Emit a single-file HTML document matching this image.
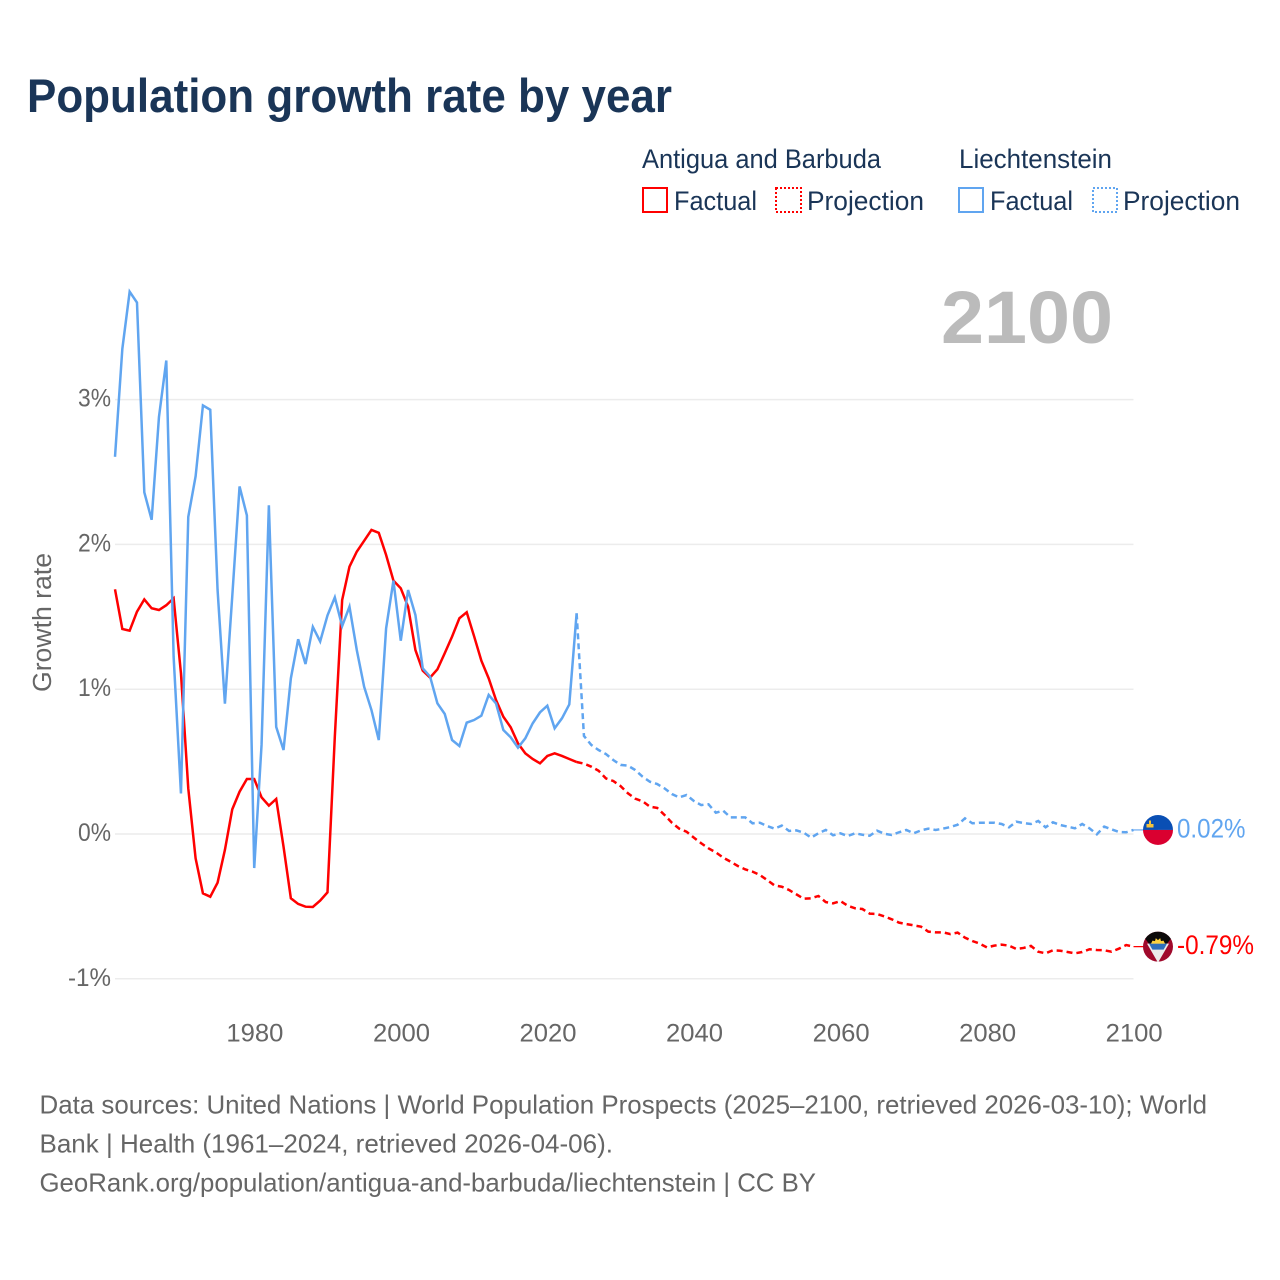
<!DOCTYPE html>
<html lang="en">
<head>
<meta charset="utf-8">
<title>Population growth rate by year</title>
<style>
  html, body { margin: 0; padding: 0; background: #ffffff; }
  svg { display: block; font-family: "Liberation Sans", sans-serif; }
</style>
</head>
<body>
<svg id="chart" xmlns="http://www.w3.org/2000/svg" width="1280" height="1280" viewBox="0 0 1280 1280">
  <defs>
    <clipPath id="flag-clip-top"><circle cx="0" cy="0" r="15"></circle></clipPath>
  </defs>
  <rect x="0" y="0" width="1280" height="1280" fill="#ffffff"></rect>

  <text x="27" y="112" font-size="47" font-weight="700" fill="#1a3557" textLength="645" lengthAdjust="spacingAndGlyphs">Population growth rate by year</text>

  <g font-size="26.5" fill="#1a3557">
    <text x="642" y="168" textLength="239" lengthAdjust="spacingAndGlyphs">Antigua and Barbuda</text>
    <text x="959" y="168" textLength="153" lengthAdjust="spacingAndGlyphs">Liechtenstein</text>
    <rect x="643" y="188" width="24" height="24" fill="none" stroke="#ff0000" stroke-width="2"></rect>
    <text x="674" y="210" textLength="83" lengthAdjust="spacingAndGlyphs">Factual</text>
    <rect x="776" y="188" width="25" height="24" fill="none" stroke="#ff0000" stroke-width="2" stroke-dasharray="2 2"></rect>
    <text x="807" y="210" textLength="117" lengthAdjust="spacingAndGlyphs">Projection</text>
    <rect x="959" y="188" width="24" height="24" fill="none" stroke="#60a5f0" stroke-width="2"></rect>
    <text x="990" y="210" textLength="83" lengthAdjust="spacingAndGlyphs">Factual</text>
    <rect x="1093" y="188" width="24" height="24" fill="none" stroke="#60a5f0" stroke-width="2" stroke-dasharray="2 2"></rect>
    <text x="1123" y="210" textLength="117" lengthAdjust="spacingAndGlyphs">Projection</text>
  </g>

  <text x="941" y="343" font-size="74" font-weight="700" fill="#bbbbbb" textLength="172" lengthAdjust="spacingAndGlyphs">2100</text>

  <text transform="translate(51,692) rotate(-90)" font-size="25.5" fill="#666666" textLength="139" lengthAdjust="spacingAndGlyphs">Growth rate</text>

  <g id="grid"></g>
  <g id="y-ticks"></g>
  <g id="x-ticks"></g>
  <g id="series"></g>

  <g id="flag-liechtenstein">
    <g clip-path="url(#flag-clip-top)">
      <rect x="-15" y="-15" width="30" height="15" fill="#0a4fb4"></rect>
      <rect x="-15" y="0" width="30" height="15" fill="#da0030"></rect>
      <path d="M-11.5,-2.5 L-11.5,-6 L-9,-6 L-9,-9.5 L-7,-9.5 L-7,-6 L-4.5,-6 L-4.5,-2.5 Z" fill="#f5c33b"></path>
    </g>
  </g>
  <g id="flag-antigua">
    <g clip-path="url(#flag-clip-top)">
      <rect x="-15" y="-15" width="30" height="30" fill="#a00a2c"></rect>
      <polygon points="-16,-15 16,-15 16,-8 13,-8 9,-3 -9,-3 -13,-8 -16,-8" fill="#0c0a0a"></polygon>
      <polygon points="-11,-3 11,-3 0,16" fill="#ecebeb"></polygon>
      <polygon points="-9,-3 9,-3 5.6,3 -5.6,3" fill="#2e6fbc"></polygon>
      <path d="M-7,-3 L-5.5,-6 L-3,-5.5 L-2.2,-8.5 L0,-6.5 L2.2,-8.5 L3,-5.5 L5.5,-6 L7,-3 Z" fill="#fcd13e"></path>
    </g>
  </g>
  <g id="end-labels"></g>

  <g font-size="26" fill="#666666">
    <text x="39.5" y="1113.5" textLength="1167.5" lengthAdjust="spacingAndGlyphs">Data sources: United Nations | World Population Prospects (2025–2100, retrieved 2026-03-10); World</text>
    <text x="39.5" y="1152.5" textLength="573.5" lengthAdjust="spacingAndGlyphs">Bank | Health (1961–2024, retrieved 2026-04-06).</text>
    <text x="39.5" y="1191.5" textLength="776.5" lengthAdjust="spacingAndGlyphs">GeoRank.org/population/antigua-and-barbuda/liechtenstein | CC BY</text>
  </g>
</svg>

<script>
const factualYears = [1961,1962,1963,1964,1965,1966,1967,1968,1969,1970,1971,1972,1973,1974,1975,1976,1977,1978,1979,1980,1981,1982,1983,1984,1985,1986,1987,1988,1989,1990,1991,1992,1993,1994,1995,1996,1997,1998,1999,2000,2001,2002,2003,2004,2005,2006,2007,2008,2009,2010,2011,2012,2013,2014,2015,2016,2017,2018,2019,2020,2021,2022,2023,2024];
const projectionYears = [2024,2025,2026,2027,2028,2029,2030,2031,2032,2033,2034,2035,2036,2037,2038,2039,2040,2041,2042,2043,2044,2045,2046,2047,2048,2049,2050,2051,2052,2053,2054,2055,2056,2057,2058,2059,2060,2061,2062,2063,2064,2065,2066,2067,2068,2069,2070,2071,2072,2073,2074,2075,2076,2077,2078,2079,2080,2081,2082,2083,2084,2085,2086,2087,2088,2089,2090,2091,2092,2093,2094,2095,2096,2097,2098,2099,2100];

const antiguaFactual = [1.69,1.416,1.404,1.535,1.62,1.559,1.547,1.58,1.628,1.11,0.315,-0.168,-0.41,-0.433,-0.336,-0.11,0.17,0.292,0.38,0.38,0.253,0.196,0.242,-0.088,-0.444,-0.483,-0.502,-0.504,-0.46,-0.403,0.672,1.616,1.846,1.95,2.025,2.1,2.08,1.927,1.75,1.697,1.57,1.27,1.128,1.08,1.137,1.248,1.363,1.49,1.531,1.367,1.197,1.075,0.925,0.81,0.737,0.626,0.557,0.518,0.488,0.539,0.557,0.539,0.518,0.497];

const liechtensteinFactual = [2.605,3.35,3.745,3.67,2.36,2.17,2.88,3.27,1.225,0.28,2.19,2.47,2.96,2.93,1.685,0.9,1.64,2.4,2.2,-0.235,0.615,2.27,0.74,0.58,1.075,1.345,1.174,1.43,1.33,1.51,1.634,1.436,1.57,1.27,1.017,0.856,0.649,1.42,1.75,1.335,1.685,1.512,1.144,1.087,0.902,0.829,0.649,0.608,0.769,0.787,0.817,0.96,0.902,0.718,0.668,0.596,0.661,0.764,0.84,0.886,0.73,0.799,0.895,1.524];

const antiguaProjection = [0.497,0.486,0.465,0.437,0.384,0.366,0.331,0.281,0.244,0.226,0.189,0.18,0.131,0.078,0.037,0.016,-0.025,-0.064,-0.099,-0.127,-0.163,-0.191,-0.221,-0.244,-0.26,-0.283,-0.318,-0.355,-0.364,-0.387,-0.417,-0.447,-0.444,-0.428,-0.47,-0.479,-0.463,-0.495,-0.513,-0.518,-0.55,-0.552,-0.569,-0.589,-0.612,-0.622,-0.631,-0.64,-0.674,-0.679,-0.679,-0.691,-0.681,-0.716,-0.739,-0.757,-0.783,-0.771,-0.764,-0.771,-0.794,-0.787,-0.773,-0.813,-0.824,-0.803,-0.806,-0.815,-0.824,-0.815,-0.796,-0.801,-0.803,-0.813,-0.792,-0.767,-0.778];

const liechtensteinProjection = [1.524,0.677,0.615,0.58,0.552,0.511,0.477,0.472,0.442,0.396,0.361,0.345,0.315,0.276,0.253,0.269,0.228,0.2,0.205,0.147,0.161,0.115,0.115,0.115,0.074,0.078,0.055,0.037,0.058,0.021,0.025,0.009,-0.025,0.005,0.028,-0.009,0.005,-0.014,0.005,-0.005,-0.012,0.023,0.002,-0.007,0.012,0.028,0.005,0.025,0.037,0.028,0.037,0.048,0.064,0.108,0.074,0.078,0.078,0.078,0.069,0.046,0.085,0.076,0.069,0.09,0.046,0.081,0.062,0.051,0.039,0.069,0.039,-0.002,0.051,0.032,0.014,0.012,0.028];

const yTickValues = [3, 2, 1, 0, -1];
const yTickLabels = ['3%', '2%', '1%', '0%', '-1%'];
const xTickValues = [1980, 2000, 2020, 2040, 2060, 2080, 2100];
const xTickLabels = ['1980', '2000', '2020', '2040', '2060', '2080', '2100'];
const endValueLabels = ['0.02%', '-0.79%'];

const SVG_NS = 'http://www.w3.org/2000/svg';
const xStartYear = 1961, xEndYear = 2100, xLeft = 115, xRight = 1133.5;
const yZeroPx = 834, pxPerPercent = 144.8;

function xScale(year) {
  return xLeft + (year - xStartYear) * (xRight - xLeft) / (xEndYear - xStartYear);
}
function yScale(value) {
  return yZeroPx - value * pxPerPercent;
}
function linePath(years, values) {
  return years.map(function (yr, i) {
    return (i ? 'L' : 'M') + xScale(yr).toFixed(2) + ',' + yScale(values[i]).toFixed(2);
  }).join(' ');
}

const gridGroup = document.getElementById('grid');
const yTickGroup = document.getElementById('y-ticks');
const xTickGroup = document.getElementById('x-ticks');
const seriesGroup = document.getElementById('series');
const endLabelGroup = document.getElementById('end-labels');

yTickValues.forEach(function (value, i) {
  const grid = document.createElementNS(SVG_NS, 'line');
  
  
  grid.setAttribute('x1', xLeft);
  grid.setAttribute('x2', xRight);
  grid.setAttribute('y1', yScale(value));
  grid.setAttribute('y2', yScale(value));
  grid.setAttribute('stroke', '#ececec');
  grid.setAttribute('stroke-width', '1.5');
  gridGroup.appendChild(grid);

  const label = document.createElementNS(SVG_NS, 'text');
  
  
  label.setAttribute('x', 111);
  label.setAttribute('y', yScale(value) + 7);
  label.setAttribute('text-anchor', 'end');
  label.setAttribute('font-size', '25');
  label.setAttribute('fill', '#666666');
  label.setAttribute('textLength', yTickLabels[i].length === 3 ? 43 : 33);
  label.setAttribute('lengthAdjust', 'spacingAndGlyphs');
  label.textContent = yTickLabels[i];
  yTickGroup.appendChild(label);
});

xTickValues.forEach(function (year, i) {
  const label = document.createElementNS(SVG_NS, 'text');
  
  
  label.setAttribute('x', xScale(year) + 0.7);
  label.setAttribute('y', 1041.5);
  label.setAttribute('text-anchor', 'middle');
  label.setAttribute('font-size', '25');
  label.setAttribute('fill', '#666666');
  label.setAttribute('textLength', 57);
  label.setAttribute('lengthAdjust', 'spacingAndGlyphs');
  label.textContent = xTickLabels[i];
  xTickGroup.appendChild(label);
});

const antiguaFactualLine = document.createElementNS(SVG_NS, 'path');


antiguaFactualLine.setAttribute('d', linePath(factualYears, antiguaFactual));
antiguaFactualLine.setAttribute('fill', 'none');
antiguaFactualLine.setAttribute('stroke', '#ff0000');
antiguaFactualLine.setAttribute('stroke-width', '2.5');
seriesGroup.appendChild(antiguaFactualLine);

const antiguaProjectionLine = document.createElementNS(SVG_NS, 'path');


antiguaProjectionLine.setAttribute('d', linePath(projectionYears, antiguaProjection));
antiguaProjectionLine.setAttribute('fill', 'none');
antiguaProjectionLine.setAttribute('stroke', '#ff0000');
antiguaProjectionLine.setAttribute('stroke-width', '2.5');
antiguaProjectionLine.setAttribute('stroke-dasharray', '6 4');
seriesGroup.appendChild(antiguaProjectionLine);

const liechtensteinFactualLine = document.createElementNS(SVG_NS, 'path');


liechtensteinFactualLine.setAttribute('d', linePath(factualYears, liechtensteinFactual));
liechtensteinFactualLine.setAttribute('fill', 'none');
liechtensteinFactualLine.setAttribute('stroke', '#60a5f0');
liechtensteinFactualLine.setAttribute('stroke-width', '2.5');
seriesGroup.appendChild(liechtensteinFactualLine);

const liechtensteinProjectionLine = document.createElementNS(SVG_NS, 'path');


liechtensteinProjectionLine.setAttribute('d', linePath(projectionYears, liechtensteinProjection));
liechtensteinProjectionLine.setAttribute('fill', 'none');
liechtensteinProjectionLine.setAttribute('stroke', '#60a5f0');
liechtensteinProjectionLine.setAttribute('stroke-width', '2.5');
liechtensteinProjectionLine.setAttribute('stroke-dasharray', '6 4');
seriesGroup.appendChild(liechtensteinProjectionLine);

const flagX = 1158;
const liechtensteinEndY = yScale(liechtensteinProjection[liechtensteinProjection.length - 1]);
const antiguaEndY = yScale(antiguaProjection[antiguaProjection.length - 1]);

const blueConnector = document.createElementNS(SVG_NS, 'line');


blueConnector.setAttribute('x1', xRight);
blueConnector.setAttribute('x2', flagX);
blueConnector.setAttribute('y1', liechtensteinEndY);
blueConnector.setAttribute('y2', liechtensteinEndY);
blueConnector.setAttribute('stroke', '#60a5f0');
blueConnector.setAttribute('stroke-width', '1.2');
seriesGroup.appendChild(blueConnector);

const redConnector = document.createElementNS(SVG_NS, 'line');


redConnector.setAttribute('x1', xRight);
redConnector.setAttribute('x2', flagX);
redConnector.setAttribute('y1', antiguaEndY);
redConnector.setAttribute('y2', antiguaEndY);
redConnector.setAttribute('stroke', '#ff0000');
redConnector.setAttribute('stroke-width', '1.2');
seriesGroup.appendChild(redConnector);

document.getElementById('flag-liechtenstein').setAttribute('transform', 'translate(' + flagX + ',' + liechtensteinEndY + ')');
document.getElementById('flag-antigua').setAttribute('transform', 'translate(' + flagX + ',' + antiguaEndY + ')');

const blueEndLabel = document.createElementNS(SVG_NS, 'text');


blueEndLabel.setAttribute('x', 1177);
blueEndLabel.setAttribute('y', liechtensteinEndY + 7.5);
blueEndLabel.setAttribute('font-size', '26.5');
blueEndLabel.setAttribute('fill', '#60a5f0');
blueEndLabel.setAttribute('textLength', 68.5);
blueEndLabel.setAttribute('lengthAdjust', 'spacingAndGlyphs');
blueEndLabel.textContent = endValueLabels[0];
endLabelGroup.appendChild(blueEndLabel);

const redEndLabel = document.createElementNS(SVG_NS, 'text');


redEndLabel.setAttribute('x', 1177);
redEndLabel.setAttribute('y', antiguaEndY + 7.5);
redEndLabel.setAttribute('font-size', '26.5');
redEndLabel.setAttribute('fill', '#ff0000');
redEndLabel.setAttribute('textLength', 77);
redEndLabel.setAttribute('lengthAdjust', 'spacingAndGlyphs');
redEndLabel.textContent = endValueLabels[1];
endLabelGroup.appendChild(redEndLabel);
</script>
</body>
</html>
